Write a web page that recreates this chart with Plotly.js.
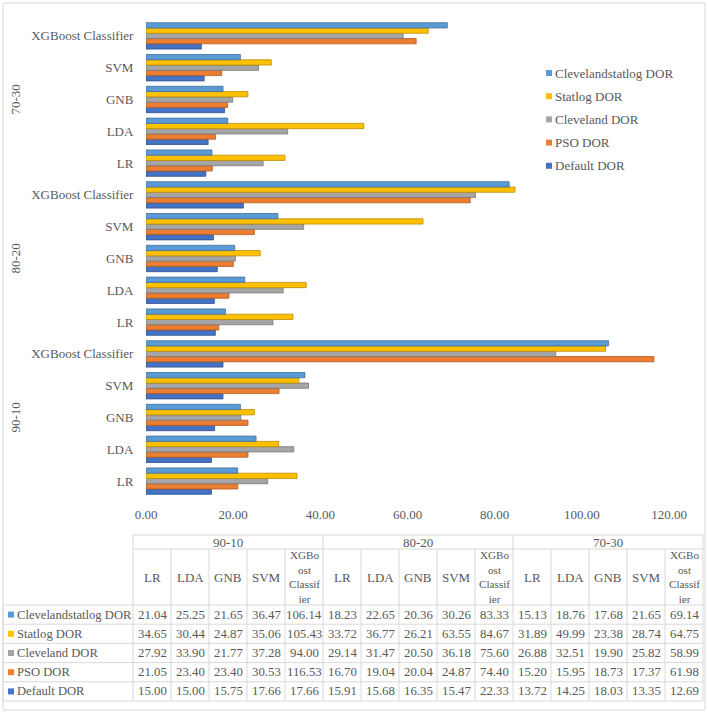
<!DOCTYPE html>
<html>
<head>
<meta charset="utf-8">
<script src="https://cdn.plot.ly/plotly-3.0.1.min.js"></script>
<style>
  html, body { margin: 0; padding: 0; background: #ffffff; }
  #chart { width: 708px; height: 713px; }
</style>
</head>
<body>
<div id="chart"></div>
<script>
// Train/test splits and classifiers (bottom to top on the chart)
const splits = ['90-10', '80-20', '70-30'];
const models = ['LR', 'LDA', 'GNB', 'SVM', 'XGBoost Classifier'];
const modelHeaders = ['LR', 'LDA', 'GNB', 'SVM', 'XGBo<br>ost<br>Classif<br>ier'];

// DOR values, ordered split by split, model by model
const clevelandstatlogDOR = [21.04, 25.25, 21.65, 36.47, 106.14, 18.23, 22.65, 20.36, 30.26, 83.33, 15.13, 18.76, 17.68, 21.65, 69.14];
const statlogDOR          = [34.65, 30.44, 24.87, 35.06, 105.43, 33.72, 36.77, 26.21, 63.55, 84.67, 31.89, 49.99, 23.38, 28.74, 64.75];
const clevelandDOR        = [27.92, 33.90, 21.77, 37.28, 94.00, 29.14, 31.47, 20.50, 36.18, 75.60, 26.88, 32.51, 19.90, 25.82, 58.99];
const psoDOR              = [21.05, 23.40, 23.40, 30.53, 116.53, 16.70, 19.04, 20.04, 24.87, 74.40, 15.20, 15.95, 18.73, 17.37, 61.98];
const defaultDOR          = [15.00, 15.00, 15.75, 17.66, 17.66, 15.91, 15.68, 16.35, 15.47, 22.33, 13.72, 14.25, 18.03, 13.35, 12.69];

const xTickVals = [0, 20, 40, 60, 80, 100, 120];

// Series in table order (top row first)
const seriesNames = ['Clevelandstatlog DOR', 'Statlog DOR', 'Cleveland DOR', 'PSO DOR', 'Default DOR'];
const seriesValues = [clevelandstatlogDOR, statlogDOR, clevelandDOR, psoDOR, defaultDOR];
const seriesColors = ['#5B9BD5', '#FFC000', '#A5A5A5', '#ED7D31', '#4472C4'];
const seriesEdges  = ['#41719C', '#BC8C00', '#787878', '#AE5A21', '#2F528F'];

// Category slots and labels
const slots = [];
const slotLabels = [];
splits.forEach((s, gi) => models.forEach((m, mi) => {
  slots.push(gi * models.length + mi);
  slotLabels.push(m);
}));

// Figure geometry
const W = 708, H = 713, ML = 146, MR = 39, MT = 20, MB = 216;
const PW = W - ML - MR, PH = H - MT - MB;
const px2x = p => (p - ML) / PW;
const py2y = p => (H - MB - p) / PH;

const FONT = '"Liberation Serif", "Times New Roman", Times, serif';
const TXT = '#595959';
const GRID = '#D9D9D9';

// Bars: first trace sits at the bottom of each group
const traces = [];
for (let k = seriesNames.length - 1; k >= 0; k--) {
  traces.push({
    type: 'bar',
    orientation: 'h',
    name: seriesNames[k],
    x: seriesValues[k],
    y: slots,
    marker: { color: seriesColors[k], line: { color: seriesEdges[k], width: 0.8 } },
    hoverinfo: 'x+name'
  });
}

const shapes = [];
const annotations = [];

function hline(y, x0, x1) {
  shapes.push({ type: 'line', xref: 'paper', yref: 'paper',
    x0: px2x(x0), x1: px2x(x1), y0: py2y(y), y1: py2y(y),
    line: { color: GRID, width: 1 } });
}
function vline(x, y0, y1) {
  shapes.push({ type: 'line', xref: 'paper', yref: 'paper',
    x0: px2x(x), x1: px2x(x), y0: py2y(y0), y1: py2y(y1),
    line: { color: GRID, width: 1 } });
}
function label(text, x, y, anchor, size) {
  annotations.push({ text: text, xref: 'paper', yref: 'paper',
    x: px2x(x), y: py2y(y), showarrow: false, borderpad: 0,
    xanchor: anchor || 'center', yanchor: 'middle',
    font: { family: FONT, size: size || 13, color: TXT } });
}
function keySquare(color, x, y) {
  shapes.push({ type: 'rect', xref: 'paper', yref: 'paper',
    x0: px2x(x), x1: px2x(x + 6), y0: py2y(y - 3), y1: py2y(y + 3),
    fillcolor: color, line: { width: 0 } });
}

// Split labels beside the category labels
splits.forEach((s, gi) => {
  annotations.push({
    text: s, xref: 'paper', yref: 'y',
    x: px2x(15), y: gi * models.length + (models.length - 1) / 2,
    textangle: -90, showarrow: false,
    xanchor: 'center', yanchor: 'middle',
    font: { family: FONT, size: 13, color: TXT }
  });
});

// Legend, top entry first
seriesNames.forEach((nm, r) => {
  const cy = 73 + r * 23.2;
  keySquare(seriesColors[r], 546, cy);
  label(nm, 554, cy, 'left', 13);
});

// Data table below the axis
const tLeft = 3, tKey = 133, tRight = 703;
const colW = (tRight - tKey) / slots.length;
const rTop = 535, rGroup = 549, rHead = 605, rowH = 19.2;
const rBottom = rHead + rowH * seriesNames.length;

hline(rTop, tKey, tRight);
hline(rGroup, tKey, tRight);
for (let r = 0; r <= seriesNames.length; r++) hline(rHead + r * rowH, tLeft, tRight);
vline(tLeft, rHead, rBottom);
splits.forEach((s, gi) => {
  const gx0 = tKey + gi * models.length * colW;
  label(s, gx0 + models.length * colW / 2, (rTop + rGroup) / 2 + 0.5);
});
for (let c = 0; c <= slots.length; c++) {
  const x = tKey + c * colW;
  const isGroupEdge = c % models.length === 0;
  vline(x, isGroupEdge ? rTop : rGroup, rBottom);
}
slots.forEach((sl, c) => {
  const cx = tKey + (c + 0.5) * colW;
  const head = modelHeaders[c % models.length];
  const multi = head.indexOf('<br>') >= 0;
  label(head, cx, (rGroup + rHead) / 2, 'center', multi ? 11.2 : 13);
});
seriesNames.forEach((nm, r) => {
  const cy = rHead + (r + 0.5) * rowH;
  keySquare(seriesColors[r], 8, cy);
  label(nm, 16, cy, 'left', 12.6);
  seriesValues[r].forEach((v, c) => label(v.toFixed(2), tKey + (c + 0.5) * colW, cy, 'center', 12.8));
});

// Chart border
shapes.push({ type: 'rect', xref: 'paper', yref: 'paper',
  x0: px2x(3), x1: px2x(705), y0: py2y(3), y1: py2y(710),
  line: { color: GRID, width: 1 }, fillcolor: 'rgba(0,0,0,0)' });

const layout = {
  width: W, height: H,
  margin: { l: ML, r: MR, t: MT, b: MB, pad: 0, autoexpand: false },
  paper_bgcolor: '#ffffff', plot_bgcolor: '#ffffff',
  barmode: 'group', bargap: 0.17, bargroupgap: 0,
  font: { family: FONT, size: 13, color: TXT },
  showlegend: false,
  xaxis: {
    range: [0, 120], tickvals: xTickVals,
    ticktext: xTickVals.map(v => v.toFixed(2)),
    showgrid: false, zeroline: false, showline: false,
    ticks: 'outside', ticklen: 5, tickcolor: 'rgba(0,0,0,0)',
    tickfont: { family: FONT, size: 13, color: TXT }, fixedrange: true
  },
  yaxis: {
    range: [-0.5, slots.length - 0.5],
    tickvals: slots, ticktext: slotLabels,
    showgrid: false, zeroline: false, showline: false,
    ticks: 'outside', ticklen: 9, tickcolor: 'rgba(0,0,0,0)',
    tickfont: { family: FONT, size: 13, color: TXT }, fixedrange: true
  },
  shapes: shapes,
  annotations: annotations
};

Plotly.newPlot('chart', traces, layout, { displayModeBar: false, staticPlot: true });
</script>
</body>
</html>
